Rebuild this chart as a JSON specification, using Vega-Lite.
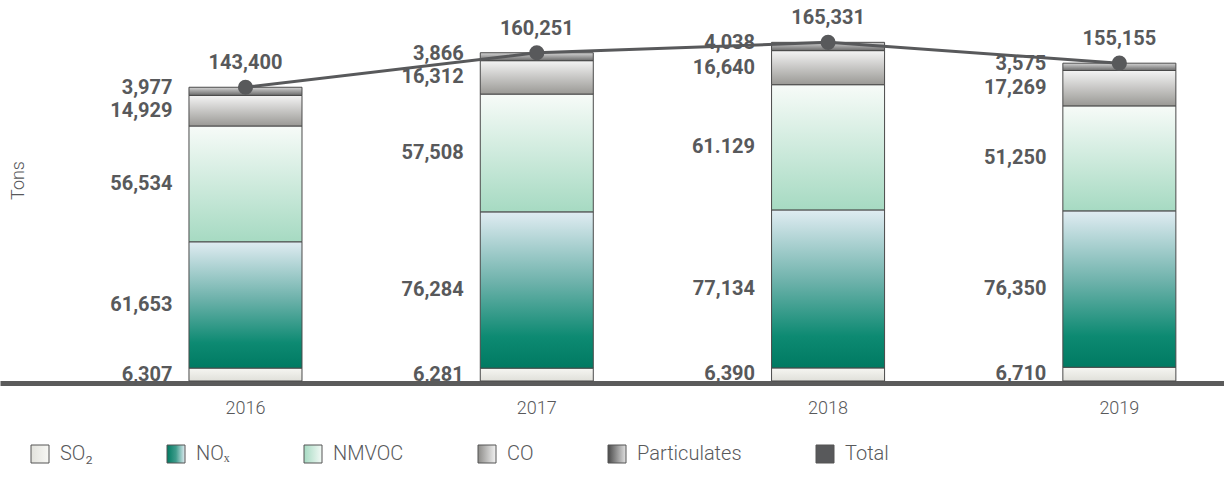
{
  "$schema": "https://vega.github.io/schema/vega-lite/v6.json",
  "width": 1224,
  "height": 381,
  "autosize": "none",
  "padding": {"left": 0, "top": 0, "right": 0, "bottom": 114},
  "background": "white",
  "config": {"view": {"stroke": null}, "font": "Roboto"},
  "datasets": {
    "emissions": [
      {"year": "2016", "component": "SO₂", "tons": 6307, "label": "6,307"},
      {"year": "2016", "component": "NOₓ", "tons": 61653, "label": "61,653"},
      {"year": "2016", "component": "NMVOC", "tons": 56534, "label": "56,534"},
      {"year": "2016", "component": "CO", "tons": 14929, "label": "14,929"},
      {"year": "2016", "component": "Particulates", "tons": 3977, "label": "3,977"},
      {"year": "2017", "component": "SO₂", "tons": 6281, "label": "6,281"},
      {"year": "2017", "component": "NOₓ", "tons": 76284, "label": "76,284"},
      {"year": "2017", "component": "NMVOC", "tons": 57508, "label": "57,508"},
      {"year": "2017", "component": "CO", "tons": 16312, "label": "16,312"},
      {"year": "2017", "component": "Particulates", "tons": 3866, "label": "3,866"},
      {"year": "2018", "component": "SO₂", "tons": 6390, "label": "6,390"},
      {"year": "2018", "component": "NOₓ", "tons": 77134, "label": "77,134"},
      {"year": "2018", "component": "NMVOC", "tons": 61129, "label": "61.129"},
      {"year": "2018", "component": "CO", "tons": 16640, "label": "16,640"},
      {"year": "2018", "component": "Particulates", "tons": 4038, "label": "4,038"},
      {"year": "2019", "component": "SO₂", "tons": 6710, "label": "6,710"},
      {"year": "2019", "component": "NOₓ", "tons": 76350, "label": "76,350"},
      {"year": "2019", "component": "NMVOC", "tons": 51250, "label": "51,250"},
      {"year": "2019", "component": "CO", "tons": 17269, "label": "17,269"},
      {"year": "2019", "component": "Particulates", "tons": 3575, "label": "3,575"}
    ],
    "totals": [
      {"year": "2016", "component": "Total", "total": 143400, "label": "143,400"},
      {"year": "2017", "component": "Total", "total": 160251, "label": "160,251"},
      {"year": "2018", "component": "Total", "total": 165331, "label": "165,331"},
      {"year": "2019", "component": "Total", "total": 155155, "label": "155,155"}
    ]
  },
  "layer": [
    {
      "data": {"name": "emissions"},
      "transform": [
        {"stack": "tons", "groupby": ["year"], "as": ["t0", "t1"]},
        {"calculate": "(datum.t0 + datum.t1) / 2", "as": "tmid"}
      ],
      "layer": [
        {
          "transform": [{"filter": "datum.component === 'SO₂'"}],
          "mark": {"type": "bar", "stroke": "#4a4a4a", "strokeWidth": 1,
            "fill": {"gradient": "linear", "x1": 0, "y1": 0, "x2": 0, "y2": 1, "stops": [{"offset": 0, "color": "#f6f6f2"}, {"offset": 1, "color": "#e0e0da"}]}},
          "encoding": {
            "x": {
              "field": "year",
              "type": "nominal",
              "sort": null,
              "scale": {"paddingInner": 0.612, "paddingOuter": 0.407, "align": 0.797},
              "axis": {
                "title": null,
                "labelAngle": 0,
                "ticks": false,
                "tickSize": 0,
                "domainColor": "#5b5b5b",
                "domainWidth": 5,
                "offset": 2,
                "labelPadding": 16,
                "labelFontSize": 18,
                "labelFont": "Roboto",
                "labelFontWeight": 300,
                "labelColor": "#58595b"
              }
            },
            "y": {
              "field": "t1",
              "type": "quantitative",
              "scale": {"domain": [0, 186000], "nice": false, "zero": true},
              "axis": {
                "title": "Tons",
                "domain": false,
                "ticks": false,
                "labels": false,
                "grid": false,
                "titleX": 18,
                "titleY": 180,
                "titleAngle": -90,
                "titleAlign": "center",
                "titleBaseline": "middle",
                "titleFontSize": 18,
                "titleFont": "Roboto",
                "titleFontWeight": 300,
                "titleColor": "#58595b"
              }
            },
            "y2": {"field": "t0"}
          }
        },
        {
          "transform": [{"filter": "datum.component === 'NOₓ'"}],
          "mark": {"type": "bar", "stroke": "#4a4a4a", "strokeWidth": 1,
            "fill": {"gradient": "linear", "x1": 0, "y1": 0, "x2": 0, "y2": 1, "stops": [{"offset": 0, "color": "#e0ecf2"}, {"offset": 0.45, "color": "#6eb2ab"}, {"offset": 0.8, "color": "#0d8a72"}, {"offset": 1, "color": "#007a62"}]}},
          "encoding": {
            "x": {"field": "year", "type": "nominal", "sort": null},
            "y": {"field": "t1", "type": "quantitative"},
            "y2": {"field": "t0"}
          }
        },
        {
          "transform": [{"filter": "datum.component === 'NMVOC'"}],
          "mark": {"type": "bar", "stroke": "#4a4a4a", "strokeWidth": 1,
            "fill": {"gradient": "linear", "x1": 0, "y1": 0, "x2": 0, "y2": 1, "stops": [{"offset": 0, "color": "#f7fbf8"}, {"offset": 1, "color": "#a6dac2"}]}},
          "encoding": {
            "x": {"field": "year", "type": "nominal", "sort": null},
            "y": {"field": "t1", "type": "quantitative"},
            "y2": {"field": "t0"}
          }
        },
        {
          "transform": [{"filter": "datum.component === 'CO'"}],
          "mark": {"type": "bar", "stroke": "#4a4a4a", "strokeWidth": 1,
            "fill": {"gradient": "linear", "x1": 0, "y1": 0, "x2": 0, "y2": 1, "stops": [{"offset": 0, "color": "#f4f4f4"}, {"offset": 1, "color": "#9a9995"}]}},
          "encoding": {
            "x": {"field": "year", "type": "nominal", "sort": null},
            "y": {"field": "t1", "type": "quantitative"},
            "y2": {"field": "t0"}
          }
        },
        {
          "transform": [{"filter": "datum.component === 'Particulates'"}],
          "mark": {"type": "bar", "stroke": "#4a4a4a", "strokeWidth": 1,
            "fill": {"gradient": "linear", "x1": 0, "y1": 0, "x2": 0, "y2": 1, "stops": [{"offset": 0, "color": "#d4d4d4"}, {"offset": 1, "color": "#6a6a6a"}]}},
          "encoding": {
            "x": {"field": "year", "type": "nominal", "sort": null},
            "y": {"field": "t1", "type": "quantitative"},
            "y2": {"field": "t0"}
          }
        },
        {
          "transform": [{"filter": "datum.component !== 'Particulates'"}],
          "mark": {"type": "text", "align": "right", "baseline": "middle", "dx": -73, "fontSize": 20, "fontWeight": "bold", "font": "Roboto", "color": "#58595b"},
          "encoding": {
            "x": {"field": "year", "type": "nominal", "sort": null},
            "y": {"field": "tmid", "type": "quantitative"},
            "text": {"field": "label"}
          }
        },
        {
          "transform": [{"filter": "datum.component === 'Particulates'"}],
          "mark": {"type": "text", "align": "right", "baseline": "middle", "dx": -73, "dy": -3, "fontSize": 20, "fontWeight": "bold", "font": "Roboto", "color": "#58595b"},
          "encoding": {
            "x": {"field": "year", "type": "nominal", "sort": null},
            "y": {"field": "tmid", "type": "quantitative"},
            "text": {"field": "label"}
          }
        }
      ]
    },
    {
      "data": {"name": "totals"},
      "layer": [
        {
          "mark": {"type": "line", "strokeWidth": 3, "color": "#58595b"},
          "encoding": {
            "x": {"field": "year", "type": "nominal", "sort": null},
            "y": {"field": "total", "type": "quantitative"}
          }
        },
        {
          "mark": {"type": "point", "shape": "circle", "filled": true, "size": 230, "opacity": 1},
          "encoding": {
            "x": {"field": "year", "type": "nominal", "sort": null},
            "y": {"field": "total", "type": "quantitative"},
            "color": {
              "field": "component",
              "type": "nominal",
              "scale": {
                "domain": ["SO₂", "NOₓ", "NMVOC", "CO", "Particulates", "Total"],
                "range": [
                  {"expr": "{gradient: 'linear', x1: 0, y1: 0, x2: 1, y2: 0, stops: [{offset: 0, color: '#e2e2dc'}, {offset: 1, color: '#f8f8f5'}]}"},
                  {"expr": "{gradient: 'linear', x1: 0, y1: 0, x2: 1, y2: 0, stops: [{offset: 0, color: '#007a62'}, {offset: 0.5, color: '#3f9c8c'}, {offset: 1, color: '#e0ecf2'}]}"},
                  {"expr": "{gradient: 'linear', x1: 0, y1: 0, x2: 1, y2: 0, stops: [{offset: 0, color: '#a6dac2'}, {offset: 1, color: '#f2f9f5'}]}"},
                  {"expr": "{gradient: 'linear', x1: 0, y1: 0, x2: 1, y2: 0, stops: [{offset: 0, color: '#8c8b88'}, {offset: 1, color: '#f2f2f2'}]}"},
                  {"expr": "{gradient: 'linear', x1: 0, y1: 0, x2: 1, y2: 0, stops: [{offset: 0, color: '#4a4a4a'}, {offset: 1, color: '#e0e0e0'}]}"},
                  "#58595b"
                ]
              },
              "legend": {
                "title": null,
                "orient": "none",
                "legendX": 30,
                "legendY": 444,
                "direction": "horizontal",
                "symbolType": "square",
                "symbolSize": 324,
                "symbolOpacity": 1,
                "symbolStrokeColor": "#555555",
                "symbolStrokeWidth": 1,
                "labelFontSize": 20,
                "labelFont": "Roboto",
                "labelFontWeight": 300,
                "labelColor": "#58595b",
                "labelOffset": 10,
                "labelLimit": 0,
                "columnPadding": 72
              }
            }
          }
        },
        {
          "mark": {"type": "text", "align": "center", "baseline": "middle", "dy": -24, "fontSize": 20, "fontWeight": "bold", "font": "Roboto", "color": "#58595b"},
          "encoding": {
            "x": {"field": "year", "type": "nominal", "sort": null},
            "y": {"field": "total", "type": "quantitative"},
            "text": {"field": "label"}
          }
        }
      ]
    }
  ]
}
